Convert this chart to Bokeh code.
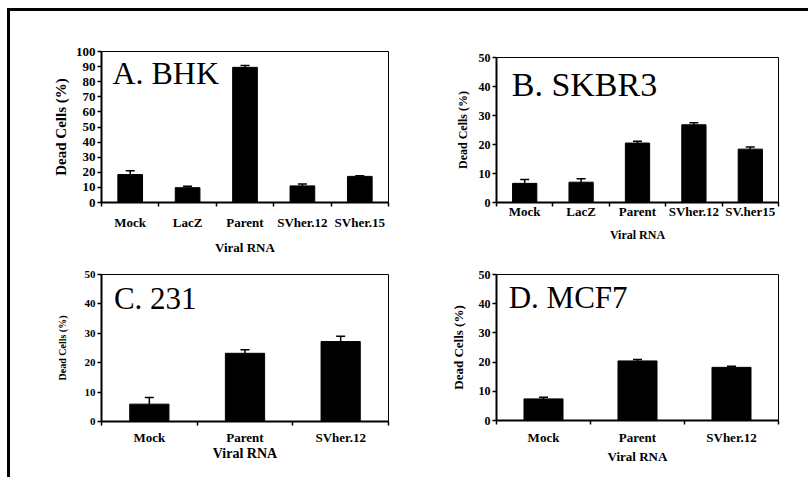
from bokeh.plotting import figure
from bokeh.models import Range1d, FixedTicker, Whisker, ColumnDataSource, Label, TeeHead
from bokeh.layouts import column, row
from bokeh.embed import file_html
from bokeh.resources import INLINE

# ---- data ----
a_cats = ["Mock", "LacZ", "Parent", "SVher.12", "SVher.15"]
a_vals = [18.5, 9.8, 89.5, 11.0, 17.3]
a_errs = [2.5, 1.0, 1.3, 1.3, 0.4]
a_yticks = [0, 10, 20, 30, 40, 50, 60, 70, 80, 90, 100]

b_cats = ["Mock", "LacZ", "Parent", "SVher.12", "SV.her15"]
b_vals = [6.6, 7.0, 20.5, 26.8, 18.4]
b_errs = [1.3, 1.2, 0.6, 0.7, 0.7]

c_cats = ["Mock", "Parent", "SVher.12"]
c_vals = [5.9, 23.2, 27.2]
c_errs = [2.3, 1.2, 1.8]

d_cats = ["Mock", "Parent", "SVher.12"]
d_vals = [7.4, 20.4, 18.2]
d_errs = [0.6, 0.5, 0.4]

small_yticks = [0, 10, 20, 30, 40, 50]

x_title = "Viral RNA"
y_title = "Dead Cells (%)"

SERIF = "Liberation Serif"


def panel(cats, vals, errs, yticks, title, title_size, title_x, title_y,
          width, height, ml, mr, mt, mb, bar_w, tick_fs, xlab_fs, xtitle_fs,
          ytitle_fs, xstand, xtstand, ytstand):
    n = len(cats)
    xs = list(range(n))
    src = ColumnDataSource(dict(x=xs, top=vals,
                                up=[v + e for v, e in zip(vals, errs)]))
    p = figure(width=width, height=height, output_backend="svg",
               toolbar_location=None, tools="",
               x_range=Range1d(-0.5, n - 0.5),
               y_range=Range1d(yticks[0], yticks[-1]),
               min_border_left=ml, min_border_right=mr,
               min_border_top=mt, min_border_bottom=mb)
    p.grid.visible = False
    p.background_fill_color = "white"
    p.border_fill_color = "white"
    p.outline_line_color = "black"
    p.outline_line_width = 1
    p.vbar(x="x", top="top", bottom=0, width=bar_w, source=src,
           fill_color="black", line_color="black")
    w = Whisker(base="x", lower="top", upper="up", source=src,
                line_color="black", line_width=1.5,
                upper_head=TeeHead(size=9, line_color="black", line_width=1.5),
                lower_head=None)
    p.add_layout(w)

    xa = p.xaxis[0]
    xa.ticker = FixedTicker(ticks=xs, minor_ticks=[i - 0.5 for i in range(n + 1)])
    xa.major_label_overrides = {i: c for i, c in enumerate(cats)}
    xa.major_tick_out = 0
    xa.major_tick_in = 0
    xa.minor_tick_out = 4
    xa.minor_tick_in = 0
    xa.minor_tick_line_color = "black"
    xa.minor_tick_line_width = 1.5
    xa.axis_line_width = 2
    xa.axis_line_color = "black"
    xa.major_label_text_font = SERIF
    xa.major_label_text_font_style = "bold"
    xa.major_label_text_font_size = f"{xlab_fs}px"
    xa.major_label_text_color = "black"
    xa.major_label_standoff = xstand
    xa.axis_label = x_title
    xa.axis_label_text_font = SERIF
    xa.axis_label_text_font_style = "bold"
    xa.axis_label_text_font_size = f"{xtitle_fs}px"
    xa.axis_label_text_color = "black"
    xa.axis_label_standoff = xtstand

    ya = p.yaxis[0]
    ya.ticker = FixedTicker(ticks=yticks, minor_ticks=[])
    ya.major_tick_out = 4
    ya.major_tick_in = 0
    ya.major_tick_line_width = 1.5
    ya.major_tick_line_color = "black"
    ya.minor_tick_out = 0
    ya.minor_tick_in = 0
    ya.axis_line_width = 2
    ya.axis_line_color = "black"
    ya.major_label_text_font = SERIF
    ya.major_label_text_font_style = "bold"
    ya.major_label_text_font_size = f"{tick_fs}px"
    ya.major_label_text_color = "black"
    ya.major_label_standoff = 2
    ya.axis_label = y_title
    ya.axis_label_text_font = SERIF
    ya.axis_label_text_font_style = "bold"
    ya.axis_label_text_font_size = f"{ytitle_fs}px"
    ya.axis_label_text_color = "black"
    ya.axis_label_standoff = ytstand

    p.add_layout(Label(x=title_x, y=title_y, text=title,
                       text_font=SERIF, text_font_size=f"{title_size}px",
                       text_color="black", text_baseline="alphabetic",
                       text_align="left"))
    return p


fa = panel(a_cats, a_vals, a_errs, a_yticks, "A. BHK", 32, -0.31, 85.5,
           390, 257, 91, 11, 40, 66, 0.43, 13, 13, 13, 15, 8, 7, 4)
fb = panel(b_cats, b_vals, b_errs, small_yticks, "B. SKBR3", 34, -0.23, 40.7,
           408, 257, 96, 30, 46, 66, 0.43, 12, 13, 12, 12, -3, 6, 6)
fc = panel(c_cats, c_vals, c_errs, small_yticks, "C. 231", 31, -0.37, 41.9,
           390, 209, 91, 12, 6, 56, 0.41, 11, 13, 14, 10, 4, -2, 14)
fd = panel(d_cats, d_vals, d_errs, small_yticks, "D. MCF7", 31, -0.37, 42.2,
           408, 209, 96, 30, 6, 57, 0.415, 12, 13, 13, 13, 5, 1, 10)

layout = row(column(fa, fc), column(fb, fd), margin=(8, 0, 0, 7),
             styles={"border-top": "3px solid black",
                     "border-left": "3px solid black"})

open("out.html", "w").write(file_html(layout, INLINE))
